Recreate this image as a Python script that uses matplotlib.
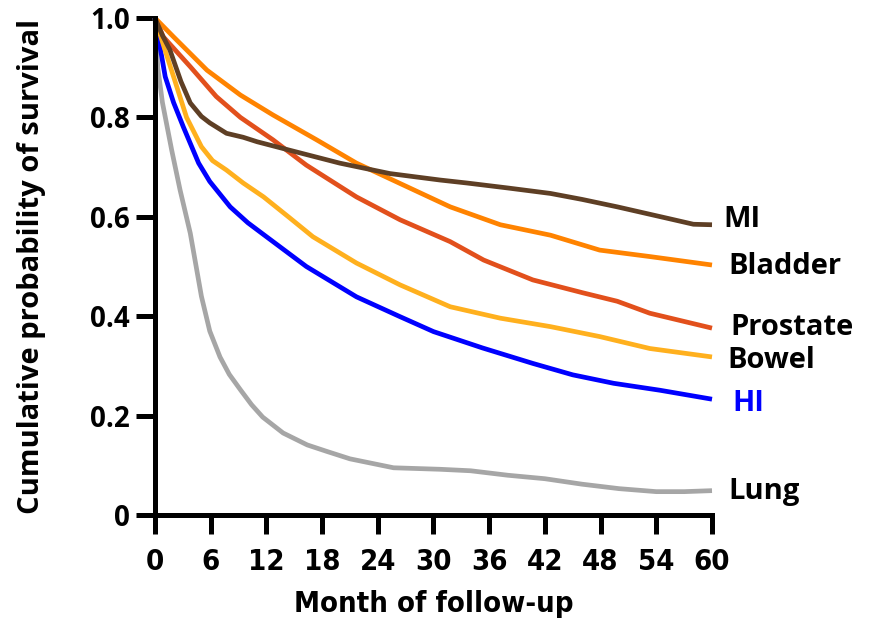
import matplotlib
matplotlib.use("Agg")
import matplotlib.pyplot as plt
from matplotlib import font_manager as fm

names = {f.name for f in fm.fontManager.ttflist}
main_font = "Open Sans" if "Open Sans" in names else "DejaVu Sans"

# Data (months, survival probability)
lung_x = [0, 0.3, 0.8, 1.8, 2.7, 3.8, 5.0, 5.9, 7.0, 8.0, 9.2, 10.4, 11.6, 13.8, 16.4, 18.5, 21.0, 25.7, 30.7, 34, 38, 42, 46, 50, 54, 57, 60]
lung_y = [1.0, 0.90, 0.83, 0.734, 0.654, 0.567, 0.44, 0.37, 0.318, 0.283, 0.252, 0.222, 0.197, 0.165, 0.141, 0.128, 0.113, 0.095, 0.092, 0.089, 0.080, 0.073, 0.062, 0.053, 0.047, 0.047, 0.049]

hi_x = [0, 1.1, 2.0, 3.05, 4.7, 5.9, 8.1, 10, 12.0, 16.3, 21.7, 26.4, 30.0, 35.3, 40.7, 45.0, 49.4, 54.4, 60]
hi_y = [1.0, 0.882, 0.83, 0.781, 0.708, 0.671, 0.620, 0.588, 0.560, 0.500, 0.439, 0.399, 0.369, 0.336, 0.305, 0.282, 0.265, 0.251, 0.233]

bowel_x = [0, 1.0, 2.0, 3.4, 5.0, 6.2, 7.7, 9.5, 11.7, 14.5, 17.0, 21.7, 26.4, 31.8, 37.2, 42.6, 47.9, 53.3, 60]
bowel_y = [1.0, 0.94, 0.882, 0.800, 0.741, 0.713, 0.694, 0.668, 0.640, 0.598, 0.560, 0.507, 0.463, 0.419, 0.396, 0.379, 0.359, 0.335, 0.318]

prostate_x = [0, 0.9, 3.8, 6.6, 9.2, 12.7, 16.3, 21.7, 26.4, 31.8, 35.4, 40.7, 46.1, 49.8, 53.3, 60]
prostate_y = [1.0, 0.962, 0.902, 0.842, 0.800, 0.755, 0.704, 0.640, 0.594, 0.550, 0.513, 0.473, 0.447, 0.430, 0.406, 0.376]

bladder_x = [0, 2.0, 5.6, 9.2, 12.7, 17.4, 21.7, 26.4, 31.8, 37.2, 42.6, 47.9, 53.3, 60]
bladder_y = [1.0, 0.962, 0.895, 0.845, 0.805, 0.755, 0.708, 0.667, 0.620, 0.584, 0.563, 0.533, 0.520, 0.503]

mi_x = [0, 0.8, 1.6, 2.8, 3.8, 5.0, 5.9, 7.7, 9.5, 11.0, 14.5, 19.9, 25.3, 30.7, 33.6, 38, 42.6, 46, 49.8, 55.2, 58, 60]
mi_y = [1.0, 0.965, 0.936, 0.872, 0.829, 0.802, 0.789, 0.768, 0.760, 0.751, 0.734, 0.708, 0.687, 0.674, 0.668, 0.658, 0.647, 0.635, 0.620, 0.597, 0.585, 0.584]

x_ticks = [0, 6, 12, 18, 24, 30, 36, 42, 48, 54, 60]
y_ticks = [0, 0.2, 0.4, 0.6, 0.8, 1.0]
y_tick_labels = ["0", "0.2", "0.4", "0.6", "0.8", "1.0"]

series = [
    ("Lung", lung_x, lung_y, "#A6A6A6", "black"),
    ("HI", hi_x, hi_y, "#0000FF", "#0000FF"),
    ("Bowel", bowel_x, bowel_y, "#FFB01E", "black"),
    ("Prostate", prostate_x, prostate_y, "#E2501C", "black"),
    ("Bladder", bladder_x, bladder_y, "#FF8300", "black"),
    ("MI", mi_x, mi_y, "#5E3F25", "black"),
]

fig = plt.figure(figsize=(8.79, 6.23), dpi=100)
ax = fig.add_axes([155/879, 108/623, 557/879, 497/623])

for name, xs, ys, col, tcol in series:
    ax.plot(xs, ys, color=col, lw=3.4, solid_capstyle="butt", solid_joinstyle="round", clip_on=False)

ax.set_xlim(0, 60)
ax.set_ylim(0, 1.0)
ax.set_xticks(x_ticks)
ax.set_xticklabels([str(t) for t in x_ticks])
ax.set_yticks(y_ticks)
ax.set_yticklabels(y_tick_labels)
for s in ["top", "right"]:
    ax.spines[s].set_visible(False)
for s in ["left", "bottom"]:
    ax.spines[s].set_linewidth(3.6)
ax.tick_params(axis="both", direction="out", length=14, width=3.6)
ax.tick_params(axis="y", pad=4)
ax.tick_params(axis="x", pad=10)
for lab in ax.get_yticklabels():
    lab.set_fontfamily(main_font)
    lab.set_fontweight("bold")
    lab.set_fontsize(20)
for lab in ax.get_xticklabels():
    lab.set_fontfamily("DejaVu Sans")
    lab.set_fontstretch("condensed")
    lab.set_fontweight("bold")
    lab.set_fontsize(21)

ax.set_xlabel("Month of follow-up", fontsize=21, fontweight="bold", family="DejaVu Sans",
              fontstretch="condensed", labelpad=10)
ax.set_ylabel("Cumulative probability of survival", fontsize=21, fontweight="bold", family=main_font, labelpad=32)

label_pos = {"MI": 0.595, "Bladder": 0.50, "Prostate": 0.378, "Bowel": 0.31, "HI": 0.225, "Lung": 0.048}
label_x = {"MI": 61.2, "Bladder": 61.8, "Prostate": 62.0, "Bowel": 61.7, "HI": 62.2, "Lung": 61.8}
for name, xs, ys, col, tcol in series:
    ax.text(label_x[name], label_pos[name], name, color=tcol, fontsize=21, fontweight="bold",
            family=main_font, va="center", ha="left", clip_on=False)

fig.savefig("out.png", dpi=100)
